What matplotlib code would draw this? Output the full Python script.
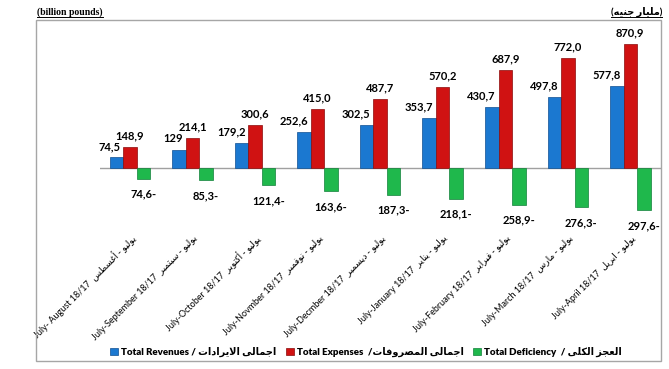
import matplotlib
matplotlib.use("Agg")
import matplotlib.pyplot as plt
from matplotlib.patches import Patch, Rectangle
from matplotlib.lines import Line2D
import numpy as np

months_en = ["July- August", "July-September", "July-October", "July-Novmber", "July-Decmber",
             "July-January", "July-February", "July-March", "July-April"]
months_ar = ["يوليو - أغسطس", "يوليو - سبتمبر", "يوليو - أكتوبر", "يوليو - نوفمبر", "يوليو - ديسمبر",
             "يوليو - يناير", "يوليو - فبراير", "يوليو - مارس", "يوليو - ابريل"]
fiscal_year = "18/17"

revenues = [74.5, 129, 179.2, 252.6, 302.5, 353.7, 430.7, 497.8, 577.8]
expenses = [148.9, 214.1, 300.6, 415.0, 487.7, 570.2, 687.9, 772.0, 870.9]
deficiency = [-74.6, -85.3, -121.4, -163.6, -187.3, -218.1, -258.9, -276.3, -297.6]

series_en = ["Total Revenues / ", "Total Expenses  /", "Total Deficiency  / "]
series_ar = ["اجمالى الايرادات", "اجمالى المصروفات", "العجز الكلى"]
unit_en = "(billion pounds)"
unit_ar = "مليار جنيه"

colors = ["#1b78d0", "#d01212", "#1fb84c"]
edges = ["#0f4f91", "#8a0b0b", "#12803a"]

# matplotlib does no arabic shaping, so map letters to presentation forms B
# value: (isolated code point, number of forms)
FORMS = {
    "ء": (0xFE80, 1), "آ": (0xFE81, 2), "أ": (0xFE83, 2), "ؤ": (0xFE85, 2),
    "إ": (0xFE87, 2), "ئ": (0xFE89, 4), "ا": (0xFE8D, 2), "ب": (0xFE8F, 4),
    "ة": (0xFE93, 2), "ت": (0xFE95, 4), "ث": (0xFE99, 4), "ج": (0xFE9D, 4),
    "ح": (0xFEA1, 4), "خ": (0xFEA5, 4), "د": (0xFEA9, 2), "ذ": (0xFEAB, 2),
    "ر": (0xFEAD, 2), "ز": (0xFEAF, 2), "س": (0xFEB1, 4), "ش": (0xFEB5, 4),
    "ص": (0xFEB9, 4), "ض": (0xFEBD, 4), "ط": (0xFEC1, 4), "ظ": (0xFEC5, 4),
    "ع": (0xFEC9, 4), "غ": (0xFECD, 4), "ف": (0xFED1, 4), "ق": (0xFED5, 4),
    "ك": (0xFED9, 4), "ل": (0xFEDD, 4), "م": (0xFEE1, 4), "ن": (0xFEE5, 4),
    "ه": (0xFEE9, 4), "و": (0xFEED, 2), "ى": (0xFEEF, 2), "ي": (0xFEF1, 4),
}
LAM_ALEF = {"آ": 0xFEF5, "أ": 0xFEF7, "إ": 0xFEF9, "ا": 0xFEFB}


def joins_next(c):
    return c in FORMS and FORMS[c][1] == 4


def shape(text):
    out = []
    i = 0
    while i < len(text):
        c = text[i]
        if c not in FORMS:
            out.append(c)
            i += 1
            continue
        after_join = i > 0 and joins_next(text[i - 1])
        nxt = text[i + 1] if i + 1 < len(text) else ""
        if c == "ل" and nxt in LAM_ALEF:
            out.append(chr(LAM_ALEF[nxt] + (1 if after_join else 0)))
            i += 2
            continue
        base, count = FORMS[c]
        before_join = count == 4 and nxt in FORMS
        if after_join and before_join:
            out.append(chr(base + 3))
        elif before_join:
            out.append(chr(base + 2))
        elif after_join and count > 1:
            out.append(chr(base + 1))
        else:
            out.append(chr(base))
        i += 1
    return "".join(out)


def rtl(text):
    return shape(text)[::-1]


def fmt(v):
    if isinstance(v, int):
        return str(v)
    return f"{abs(v):.1f}".replace(".", ",") + ("-" if v < 0 else "")


plt.rcParams['font.family'] = ['Lato', 'DejaVu Sans']

W, H = 669, 369
fig = plt.figure(figsize=(W / 100, H / 100), dpi=100)

# outer frame
fig.add_artist(Rectangle((36 / W, 1 - 361 / H), 625 / W, 341 / H, transform=fig.transFigure,
                         fill=False, edgecolor="#a6a6a6", lw=1))

ax = fig.add_axes([100 / W, 1 - 230 / H, 561 / W, 210 / H])
x = np.arange(len(months_en))
w = 0.216

for k, vals in enumerate([revenues, expenses, deficiency]):
    ax.bar(x + (k - 1) * w, vals, w, color=colors[k], edgecolor=edges[k], lw=0.5, zorder=3)

ax.axhline(0, color="#a0a0a0", lw=1, zorder=2)

for i in x:
    ax.annotate(fmt(revenues[i]), (i - w + w / 2, revenues[i]), xytext=(-2, 4),
                textcoords="offset points", ha="right", va="bottom",
                fontsize=8, fontweight="bold")
    ax.annotate(fmt(expenses[i]), (i, expenses[i]), xytext=(0, 4),
                textcoords="offset points", ha="center", va="bottom",
                fontsize=8, fontweight="bold")
    ax.annotate(fmt(deficiency[i]), (i + w, deficiency[i]), xytext=(0, -7),
                textcoords="offset points", ha="center", va="top",
                fontsize=8, fontweight="bold")

ax.set_xlim(-0.48, 8.49)
ax.set_ylim(-435, 1040)
labels = [f"{en} {fiscal_year}  {rtl(ar)}" for en, ar in zip(months_en, months_ar)]
ax.set_xticks(x + 0.06, labels, rotation=45, ha="right", va="center",
              rotation_mode="anchor", fontsize=6.5)
ax.tick_params(axis="x", length=0, pad=5)
ax.set_yticks([])
for s in ax.spines.values():
    s.set_visible(False)
ax.patch.set_alpha(0)

handles = [Patch(facecolor=colors[k], edgecolor=edges[k], lw=0.5) for k in range(3)]
fig.legend(handles, [en + rtl(ar) for en, ar in zip(series_en, series_ar)],
           loc="center", bbox_to_anchor=(366 / W, 17 / H), ncol=3, frameon=False,
           handlelength=0.8, handleheight=0.8, handletextpad=0.3, columnspacing=1.0,
           prop={"weight": "heavy", "size": 7})

t1 = fig.text(37 / W, 1 - 12 / H, unit_en, family="Liberation Serif", weight="bold",
              fontsize=7, va="center", ha="left")
t2 = fig.text(662 / W, 1 - 12 / H, "(" + rtl(unit_ar) + ")", weight="bold",
              fontsize=7, va="center", ha="right")

fig.canvas.draw()
r = fig.canvas.get_renderer()
inv = fig.transFigure.inverted()
for t in (t1, t2):
    bb = t.get_window_extent(r).transformed(inv)
    fig.add_artist(Line2D([bb.x0, bb.x1], [bb.y0, bb.y0], transform=fig.transFigure,
                          color="black", lw=0.7))

fig.savefig("out.png", dpi=100)
